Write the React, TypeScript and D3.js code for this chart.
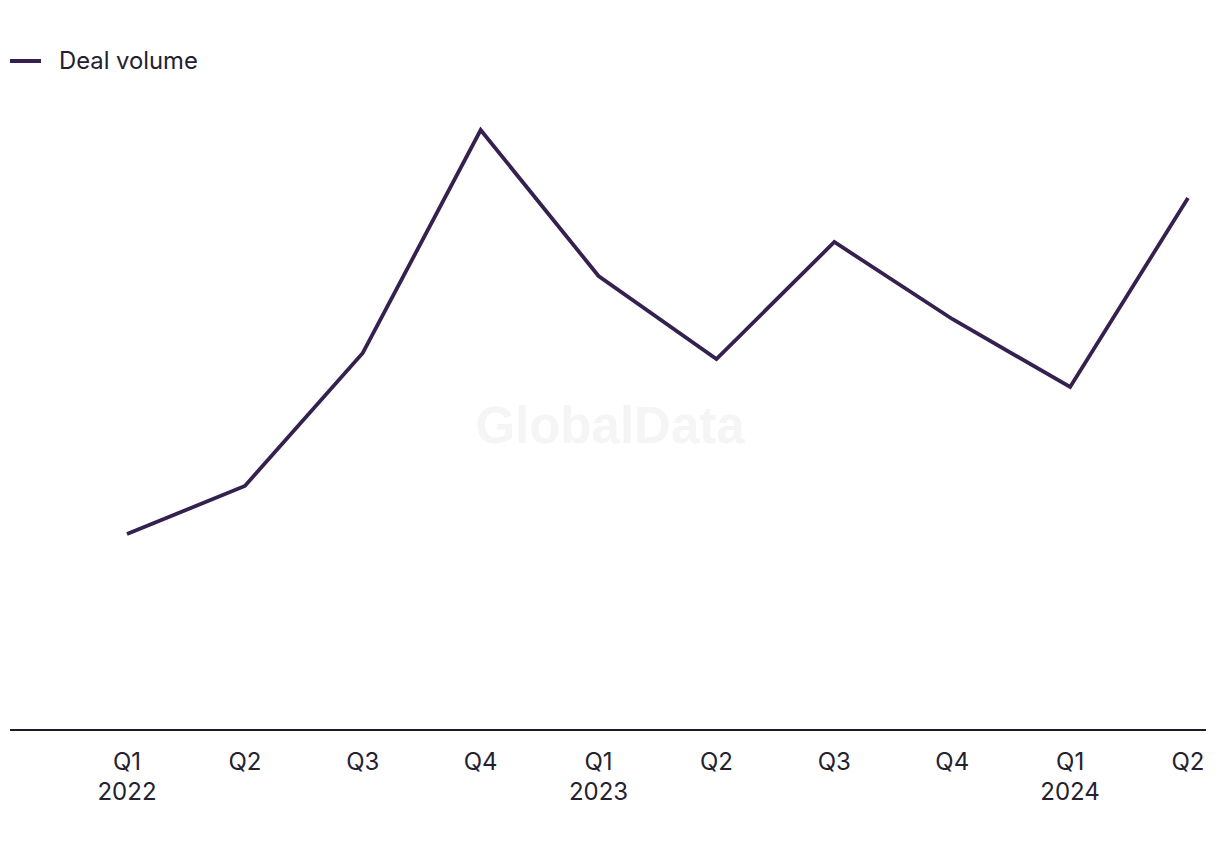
import React from "react";
import * as d3 from "d3";

const quarters = ["Q1", "Q2", "Q3", "Q4", "Q1", "Q2", "Q3", "Q4", "Q1", "Q2"];
const years = ["2022", "", "", "", "2023", "", "", "", "2024", ""];
const dealVolume = [196, 244, 377, 600, 454, 371, 488, 411, 343, 532];
const seriesName = "Deal volume";

const W = 1220;
const H = 850;
const FONT = "Inter, 'Noto Sans', sans-serif";
const LINE_COLOR = "#35214f";
const TEXT_COLOR = "#24212f";

export default function App() {
  const idx = quarters.map((_, i) => i);
  const x = d3.scalePoint<number>().domain(idx).range([127, 1188]);
  const y = d3.scaleLinear().domain([0, 600]).range([730, 130]);
  const line = d3
    .line<number>()
    .x((_, i) => x(i) as number)
    .y((d) => y(d));

  return (
    <svg
      width={W}
      height={H}
      style={{ position: "absolute", left: 0, top: 0, background: "#fff" }}
      fontFamily={FONT}
    >
      <rect x={0} y={0} width={W} height={H} fill="#fff" />
      <text
        x={610}
        y={443}
        textAnchor="middle"
        fontSize={51}
        fontWeight={700}
        fill="#f5f5f5"
        fontFamily="'Liberation Sans', Arial, sans-serif"
      >
        GlobalData
      </text>
      {/* legend */}
      <line x1={10} x2={41} y1={61} y2={61} stroke={LINE_COLOR} strokeWidth={4} />
      <text x={59} y={69} fontSize={23.8} fill={TEXT_COLOR}>
        {seriesName}
      </text>
      {/* axis baseline */}
      <line x1={10} x2={1206} y1={y(0)} y2={y(0)} stroke="#1c1a2b" strokeWidth={2} />
      {idx.map((i) => (
        <g key={i}>
          <text x={x(i)} y={770} textAnchor="middle" fontSize={24} fill={TEXT_COLOR}>
            {quarters[i]}
          </text>
          {years[i] && (
            <text x={x(i)} y={800} textAnchor="middle" fontSize={24} fill={TEXT_COLOR}>
              {years[i]}
            </text>
          )}
        </g>
      ))}
      <path
        d={line(dealVolume) || ""}
        fill="none"
        stroke={LINE_COLOR}
        strokeWidth={3.8}
        strokeLinejoin="miter"
      />
    </svg>
  );
}
